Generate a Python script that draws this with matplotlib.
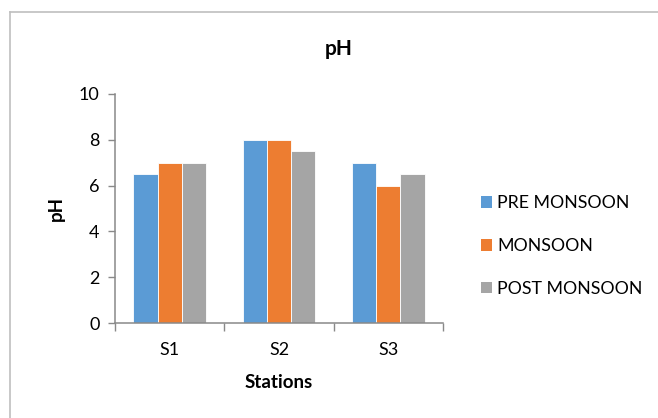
import matplotlib
matplotlib.use("Agg")
import matplotlib.pyplot as plt
from matplotlib.patches import Patch
from matplotlib.lines import Line2D
import numpy as np

# Data
stations = ["S1", "S2", "S3"]
seasons = ["PRE MONSOON", "MONSOON", "POST MONSOON"]
pre_monsoon = [6.5, 8.0, 7.0]
monsoon = [7.0, 8.0, 6.0]
post_monsoon = [7.0, 7.5, 6.5]
colors = ["#5B9BD5", "#ED7D31", "#A5A5A5"]

plt.rcParams["font.family"] = ["Lato", "DejaVu Sans"]

fig = plt.figure(figsize=(6.58, 4.18), dpi=100)
ax = fig.add_axes([115 / 658, 95 / 418, 328 / 658, 229 / 418])

x = np.arange(len(stations))
bw = 1 / 4.5
series = [pre_monsoon, monsoon, post_monsoon]
for i, (vals, c, name) in enumerate(zip(series, colors, seasons)):
    ax.bar(x + (i - 1) * bw, vals, width=bw, color=c, edgecolor="white",
           linewidth=0.6, label=name, zorder=2)

axis_col = "#898989"
ax.set_xlim(-0.5, 2.5)
ax.set_ylim(0, 10)
ax.set_yticks([0, 2, 4, 6, 8, 10])
ax.set_xticks(x)
ax.set_xticklabels(stations)
ax.set_xticks([-0.5, 0.5, 1.5, 2.5], minor=True)
ax.tick_params(axis="x", which="major", length=0, pad=14, labelsize=13)
ax.tick_params(axis="x", which="minor", length=6, width=1.0, color=axis_col)
ax.tick_params(axis="y", length=5, width=1.0, color=axis_col, pad=6, labelsize=13)
for s in ["top", "right"]:
    ax.spines[s].set_visible(False)
for s in ["left", "bottom"]:
    ax.spines[s].set_color(axis_col)
    ax.spines[s].set_linewidth(1.1)

ax.set_xlabel("Stations", fontsize=13.5, fontweight="bold", labelpad=11)
ax.set_ylabel("pH", fontsize=13.5, fontweight="bold", labelpad=10)
fig.text(339 / 658, 1 - 49 / 418, "pH", ha="center", va="center",
         fontsize=15, fontweight="bold")

handles = [Patch(facecolor=c, edgecolor="none") for c in colors]
fig.legend(handles, seasons, loc="center left",
           bbox_to_anchor=(481 / 658, 1 - 246 / 418), frameon=False,
           fontsize=12.8, handlelength=0.62, handleheight=0.62,
           handletextpad=0.3, labelspacing=1.5, borderpad=0, borderaxespad=0)

# Chart area border (top and left edges)
border_col = "#BFBFBF"
fig.add_artist(Line2D([9.5 / 658, 1.0], [1 - 11.5 / 418] * 2,
                      transform=fig.transFigure, color=border_col, linewidth=1.2))
fig.add_artist(Line2D([9.5 / 658] * 2, [0, 1 - 11.5 / 418],
                      transform=fig.transFigure, color=border_col, linewidth=1.2))

fig.savefig("out.png", dpi=100)
